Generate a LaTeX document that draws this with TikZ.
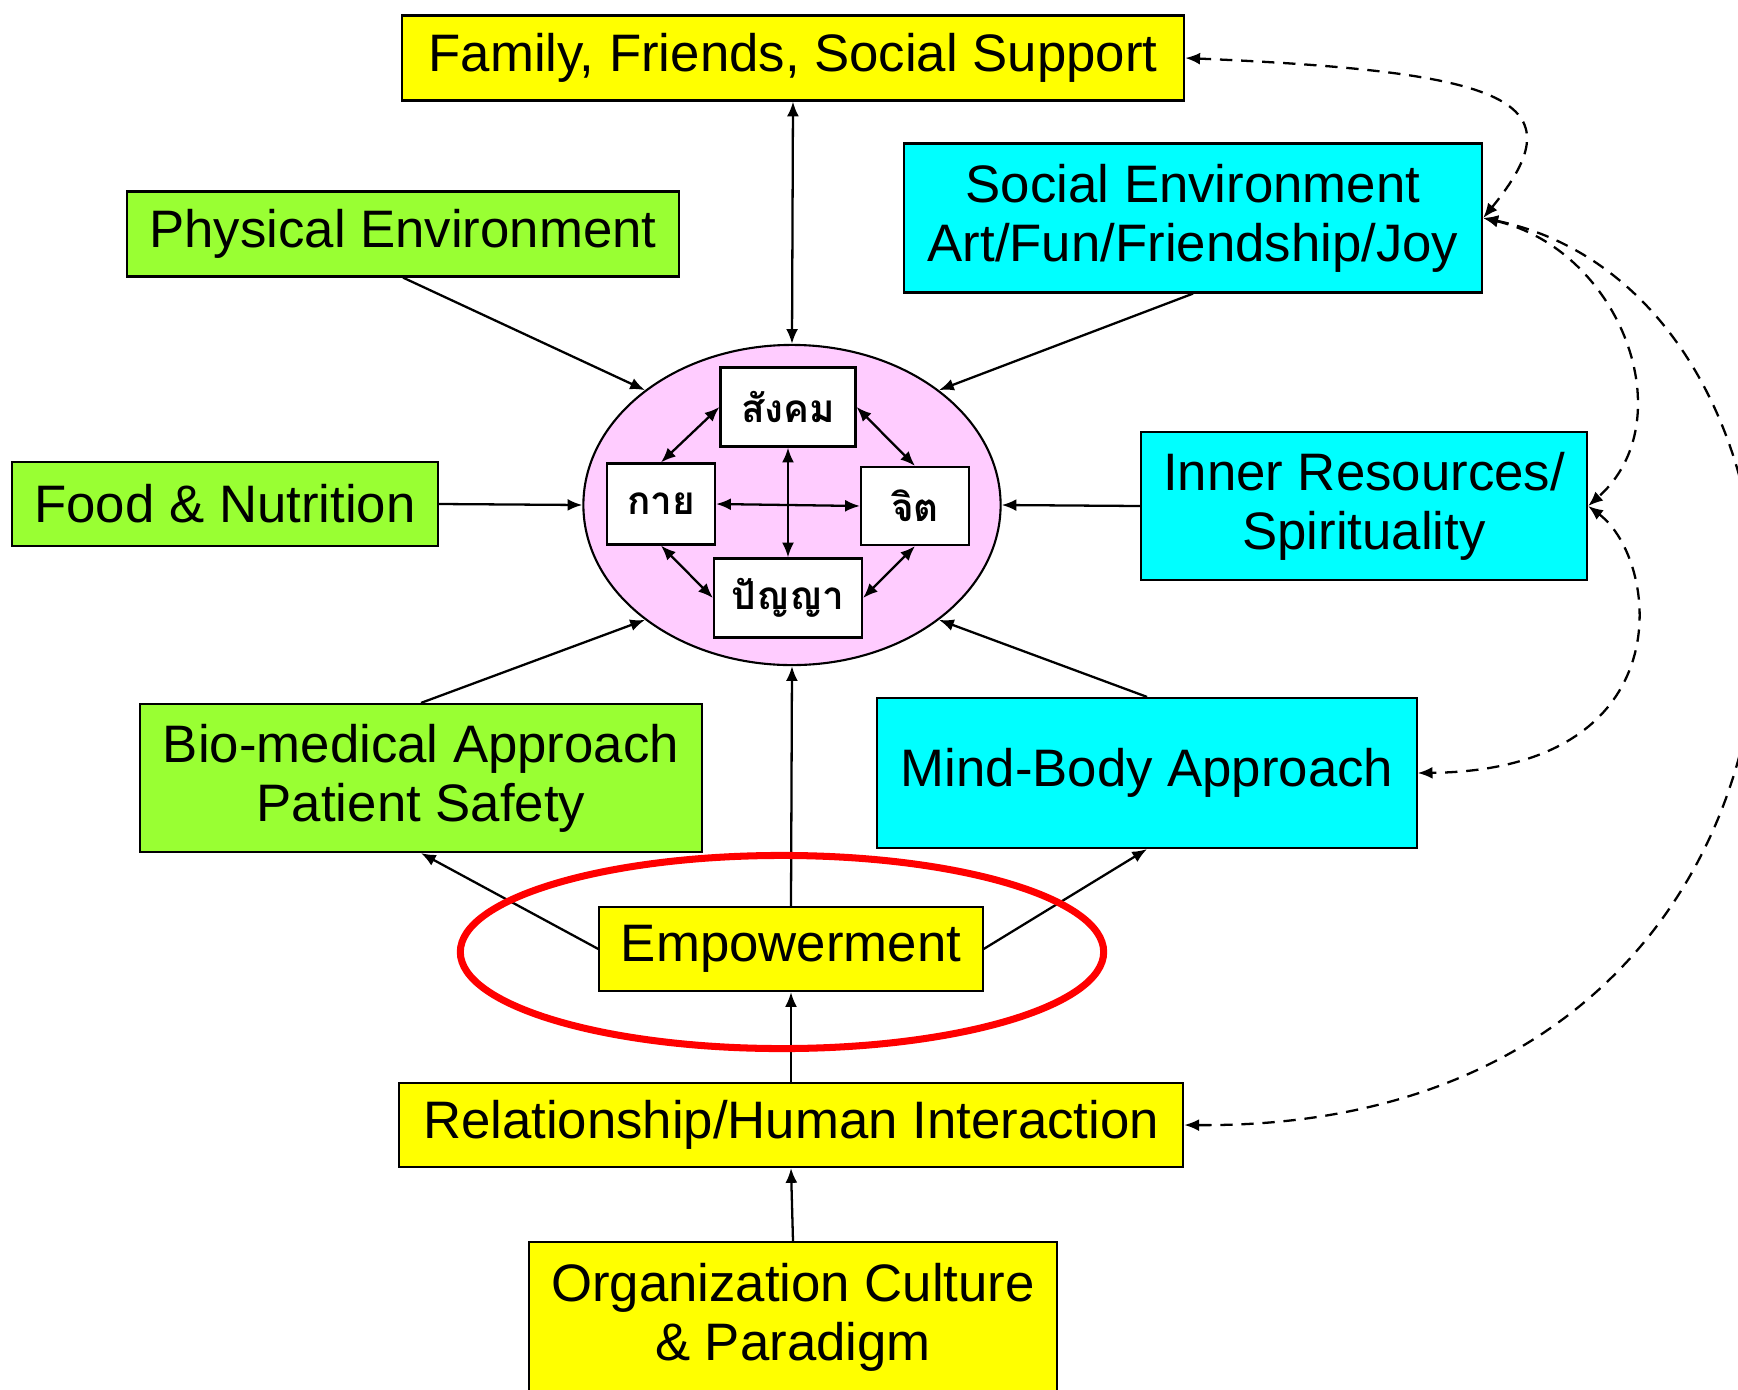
\documentclass[tikz,border=0pt]{standalone}
\usepackage{fontspec}
\setmainfont{Liberation Sans}
\newfontfamily\thaifont[Script=Thai]{Loma}
\usetikzlibrary{arrows.meta,shapes.geometric}
\definecolor{boxyellow}{HTML}{FFFF00}
\definecolor{boxgreen}{HTML}{99FF33}
\definecolor{boxcyan}{HTML}{00FFFF}
\definecolor{ovalpink}{HTML}{FFCCFF}

\begin{document}
\begin{tikzpicture}[x=0.01cm,y=-0.01cm]
		\clip (0,0) rectangle (1738,1390);

		\node[ellipse,draw,fill=ovalpink,line width=0.6pt,
		      minimum width=4.17cm,minimum height=3.2cm] (ell) at (792,505) {};

		\begin{scope}[every node/.style={rectangle,draw,line width=0.6pt,align=center,
		              inner sep=0pt,font=\fontsize{15}{16.7}\selectfont}]
		    \node[fill=boxyellow,minimum width=7.82cm,minimum height=0.85cm] (fam) at (793,58) {Family, Friends, Social Support};
		    \node[fill=boxgreen,minimum width=5.52cm,minimum height=0.85cm] (phys) at (403,234) {Physical Environment};
		    \node[fill=boxcyan,minimum width=5.78cm,minimum height=1.49cm] (soc) at (1193,218) {Social Environment\\Art/Fun/Friendship/Joy};
		    \node[fill=boxgreen,minimum width=4.26cm,minimum height=0.84cm] (food) at (225,504) {Food \& Nutrition};
		    \node[fill=boxcyan,minimum width=4.46cm,minimum height=1.48cm] (inner) at (1364,506) {Inner Resources/\\Spirituality};
		    \node[fill=boxgreen,minimum width=5.61cm,minimum height=1.48cm] (bio) at (421,778) {Bio-medical Approach\\Patient Safety};
		    \node[fill=boxcyan,minimum width=5.39cm,minimum height=1.5cm] (mind) at (1147,773) {Mind-Body Approach};
		    \node[fill=boxyellow,minimum width=3.83cm,minimum height=0.84cm] (emp) at (791,949) {Empowerment};
		    \node[fill=boxyellow,minimum width=7.84cm,minimum height=0.84cm] (rel) at (791,1125) {Relationship/Human Interaction};
		    \node[fill=boxyellow,minimum width=5.28cm,minimum height=1.5cm] (org) at (793,1317) {Organization Culture\\\& Paradigm};
		\end{scope}

		\begin{scope}[every node/.style={rectangle,draw,fill=white,line width=0.6pt,
		              inner sep=0pt,font=\thaifont\bfseries\fontsize{11}{13}\selectfont}]
		    \node[minimum width=1.35cm,minimum height=0.79cm] (sang) at (788,407) {สังคม};
		    \node[minimum width=1.08cm,minimum height=0.81cm] (kay) at (661,504) {กาย};
		    \node[minimum width=1.08cm,minimum height=0.78cm] (chit) at (915,506) {จิต};
		    \node[minimum width=1.48cm,minimum height=0.79cm] (panya) at (788,598) {ปัญญา};
		\end{scope}

		\begin{scope}[>={Latex[length=4.2pt,width=3.4pt]},
		              every edge/.style={draw=black,line width=0.65pt}]
		    \path [<->] (kay.north) edge (sang.west);
		    \path [<->] (sang.east) edge (chit.north);
		    \path [<->] (kay.south) edge (panya.west);
		    \path [<->] (chit.south) edge (panya.east);
		    \path [<->] (kay.east) edge (chit.west);
		    \path [<->] (sang.south) edge (panya.north);
		    \path [<->] (fam.south) edge (ell.north);
		    \path [->] (phys.south) edge (ell.142);
		    \path [->] (soc.south) edge (ell.38);
		    \path [->] (food.east) edge (ell.west);
		    \path [->] (inner.west) edge (ell.east);
		    \path [->] (bio.north) edge (ell.218);
		    \path [->] (mind.north) edge (ell.322);
		    \path [->] (emp.north) edge (ell.south);
		    \path [->] (emp.west) edge (bio.south);
		    \path [->] (emp.east) edge (mind.south);
		    \path [->] (rel.north) edge (emp.south);
		    \path [->] (org.north) edge (rel.south);
		\end{scope}

		% dashed links on the right
		\begin{scope}[>={Latex[length=4.2pt,width=3.4pt]},line width=0.65pt,
		              dash pattern=on 3.5pt off 2.5pt]
		    \draw [<->] (fam.east) .. controls (1510,72) and (1580,100) .. (soc.east);
		    \draw [<->] (soc.east) .. controls (1620,250) and (1685,420) .. (inner.east);
		    \draw [<->] (inner.east) .. controls (1660,560) and (1685,770) .. (mind.east);
		    \draw [<->] (soc.east) .. controls (1880,300) and (1890,1130) .. (rel.east);
		\end{scope}

		\node[ellipse,draw=red,line width=2pt,
		      minimum width=6.43cm,minimum height=1.93cm] (ring) at (782,952) {};
\end{tikzpicture}
\end{document}
